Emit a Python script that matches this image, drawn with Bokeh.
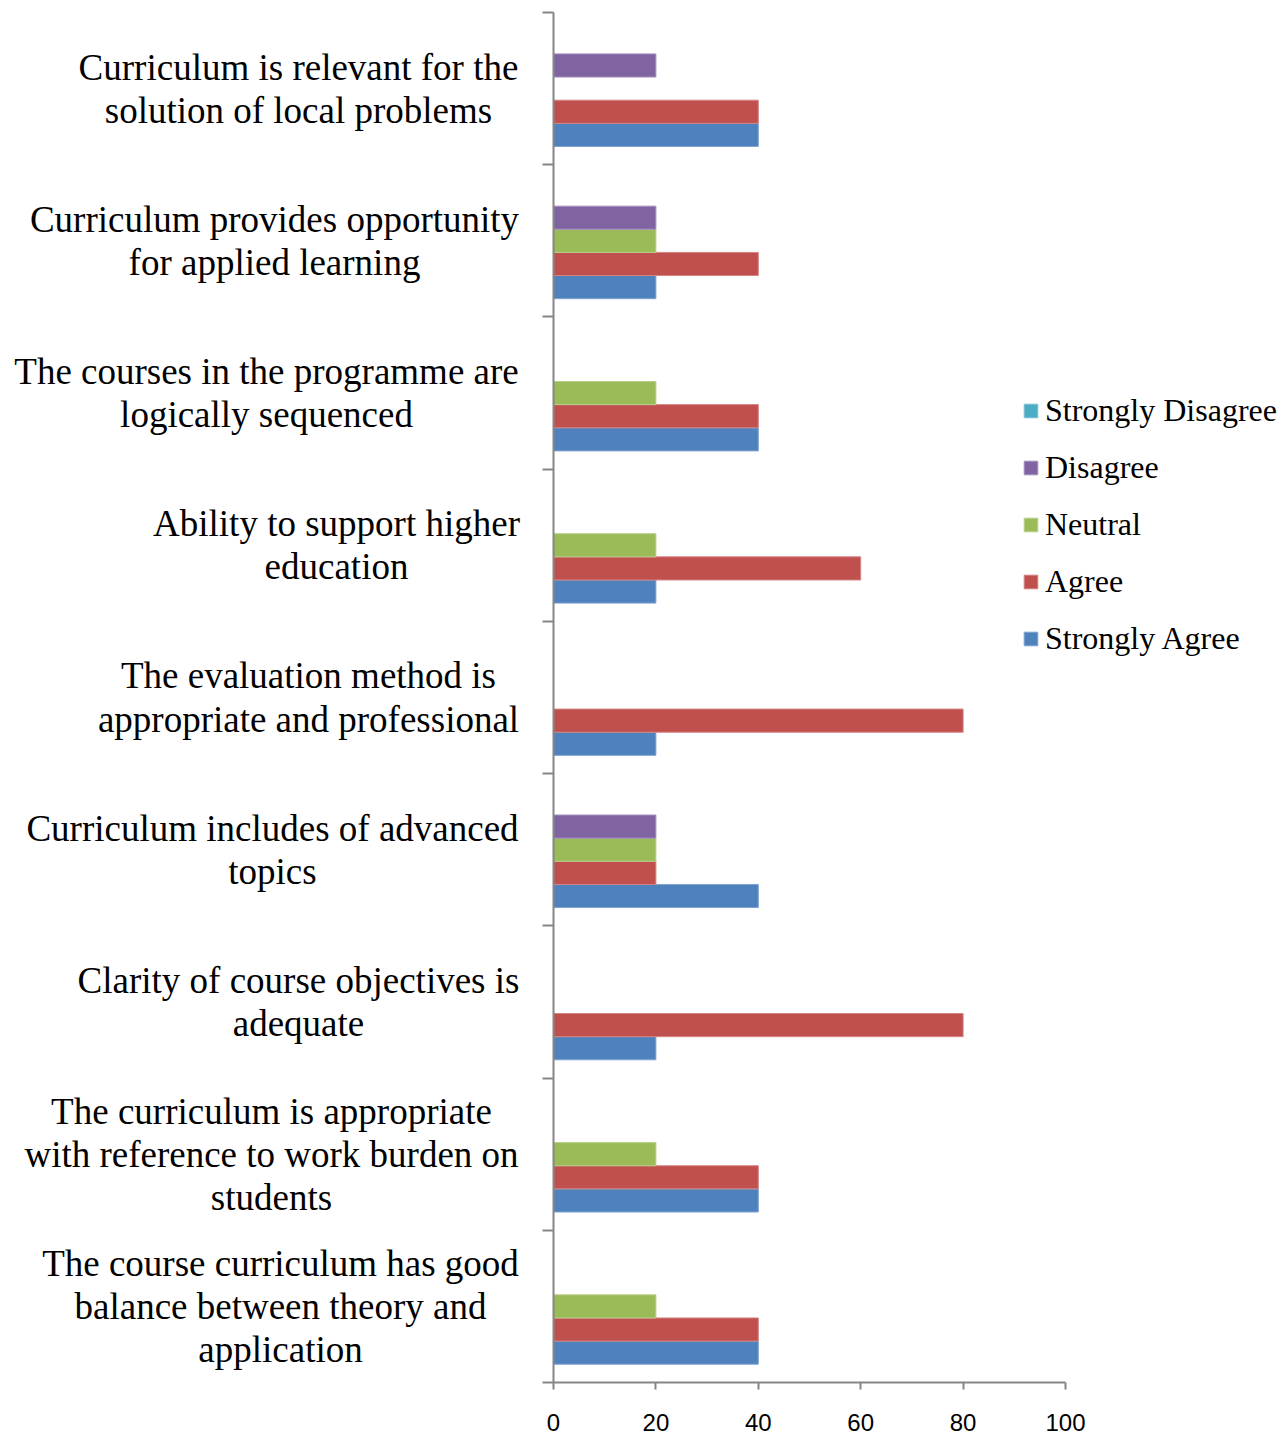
from bokeh.plotting import figure
from bokeh.layouts import row
from bokeh.models import Range1d, FixedTicker, Legend, LegendItem, ColumnDataSource, LinearAxis
from bokeh.core.properties import value
from bokeh.embed import file_html
from bokeh.resources import INLINE

# Categories listed bottom to top
categories = [
    "The course curriculum has good\nbalance between theory and\napplication",
    "The curriculum is appropriate\nwith reference to work burden on\nstudents",
    "Clarity of course objectives is\nadequate",
    "Curriculum includes of advanced\ntopics",
    "The evaluation method is\nappropriate and professional",
    "Ability to support higher\neducation",
    "The courses in the programme are\nlogically sequenced",
    "Curriculum provides opportunity\nfor applied learning",
    "Curriculum is relevant for the\nsolution of local problems",
]
strongly_agree = [40, 40, 20, 40, 20, 20, 40, 20, 40]
agree = [40, 40, 80, 20, 80, 60, 40, 40, 40]
neutral = [20, 20, 0, 20, 0, 20, 20, 20, 0]
disagree = [0, 0, 0, 20, 0, 0, 0, 20, 20]
strongly_disagree = [0, 0, 0, 0, 0, 0, 0, 0, 0]
x_ticks = [0, 20, 40, 60, 80, 100]

series_names = ["Strongly Agree", "Agree", "Neutral", "Disagree", "Strongly Disagree"]
series_values = [strongly_agree, agree, neutral, disagree, strongly_disagree]
series_colors = ["#4F81BD", "#C0504D", "#9BBB59", "#8064A2", "#4BACC6"]
series_edges = ["#7FA3D0", "#D58482", "#B8CF8A", "#A590BE", "#7DC3D6"]

# label block centres in px of the label panel -- style only
label_centers = [280, 271, 298, 272, 308, 336, 266, 274, 298]

TOP = 12
FRAME_H = 1370
BOTTOM = 53
LABEL_W = 530

# ---------- label panel ----------
lp = figure(output_backend="svg", toolbar_location=None,
            frame_width=LABEL_W, frame_height=FRAME_H,
            min_border_left=0, min_border_right=0, min_border_top=TOP, min_border_bottom=BOTTOM,
            x_range=Range1d(0, LABEL_W), y_range=Range1d(0, len(categories)),
            x_axis_type=None, y_axis_type=None)
lp.outline_line_color = None
lp.xgrid.visible = False
lp.ygrid.visible = False
lsrc = ColumnDataSource(dict(x=label_centers, y=[i + 0.5 for i in range(len(categories))], text=categories))
lp.text(x="x", y="y", text="text", source=lsrc, text_align="center", text_baseline="middle",
        text_font=value("Liberation Serif"), text_font_size="37px", text_line_height=1.05,
        text_color="black")

# ---------- chart ----------
PX_PER_UNIT = 512 / 100.0
FRAME_W = 1288 - 553
p = figure(
    output_backend="svg", toolbar_location=None,
    frame_width=FRAME_W, frame_height=FRAME_H,
    min_border_left=553 - LABEL_W, min_border_right=0, min_border_top=TOP, min_border_bottom=BOTTOM,
    x_range=Range1d(0, FRAME_W / PX_PER_UNIT), y_range=Range1d(0, len(categories)),
    x_axis_type=None,
)
p.outline_line_color = None
p.xgrid.visible = False
p.ygrid.visible = False

bar_h = 0.152
offsets = [-0.304, -0.152, 0.0, 0.152, 0.304]
renderers = []
for name, vals, col, edge, off in zip(series_names, series_values, series_colors, series_edges, offsets):
    src = ColumnDataSource(dict(y=[i + 0.5 + off for i in range(len(categories))], right=vals))
    r = p.hbar(y="y", right="right", left=0, height=bar_h, source=src,
               fill_color=col, line_color=edge, line_width=1)
    renderers.append((name, r))

axis_color = "#868686"
xaxis = LinearAxis(bounds=(x_ticks[0], x_ticks[-1]), ticker=FixedTicker(ticks=x_ticks))
xaxis.minor_tick_line_color = None
xaxis.major_tick_in = 0
xaxis.major_tick_out = 7
xaxis.axis_line_color = axis_color
xaxis.major_tick_line_color = axis_color
xaxis.axis_line_width = 2
xaxis.major_tick_line_width = 2
xaxis.major_label_text_font = "Liberation Sans"
xaxis.major_label_text_font_size = "24px"
xaxis.major_label_text_color = "black"
xaxis.major_label_standoff = 24
p.add_layout(xaxis, "below")

p.yaxis.ticker = FixedTicker(ticks=list(range(len(categories) + 1)))
p.yaxis.minor_tick_line_color = None
p.yaxis.major_tick_in = 0
p.yaxis.major_tick_out = 11
p.yaxis.axis_line_color = axis_color
p.yaxis.major_tick_line_color = axis_color
p.yaxis.axis_line_width = 2
p.yaxis.major_tick_line_width = 2
p.yaxis.major_label_text_font_size = "0px"
p.yaxis.major_label_text_color = None
p.yaxis.major_label_standoff = 0

items = [LegendItem(label=n, renderers=[r]) for n, r in reversed(renderers)]
legend = Legend(items=items, location=(469, 725), orientation="vertical",
                padding=0, margin=0, border_line_color=None, background_fill_alpha=0,
                label_text_font="Liberation Serif", label_text_font_size="32px",
                label_text_color="black", label_height=37, glyph_height=17, glyph_width=17,
                label_standoff=6, spacing=20)
p.add_layout(legend, "center")

layout = row(lp, p, spacing=0)
open("out.html", "w").write(file_html(layout, INLINE))
